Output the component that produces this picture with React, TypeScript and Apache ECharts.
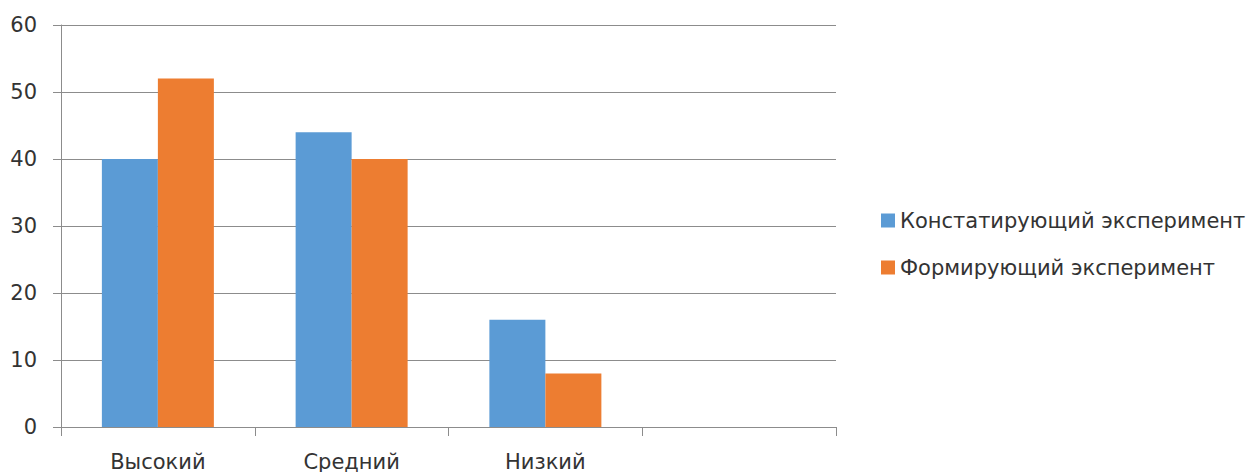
import React, { useEffect, useRef } from "react";
import * as echarts from "echarts";

const categories = ["Высокий", "Средний", "Низкий", ""];
const seriesNames = ["Констатирующий эксперимент", "Формирующий эксперимент"];
const constatValues = [40, 44, 16, null];
const formValues = [52, 40, 8, null];
const yTicks = { min: 0, max: 60, interval: 10 };

const FONT = "DejaVu Sans";
const TEXT = "#333333";
const AXIS = "#8c8c8c";

export default function App() {
  const ref = useRef<HTMLDivElement>(null);
  useEffect(() => {
    if (!ref.current) return;
    const chart = echarts.init(ref.current, undefined, { renderer: "svg" });
    chart.setOption({
      animation: false,
      backgroundColor: "#ffffff",
      grid: { left: 61, right: 412, top: 25, bottom: 44, containLabel: false },
      legend: {
        orient: "vertical",
        left: 876,
        top: 205,
        itemWidth: 14,
        itemHeight: 14,
        itemGap: 26,
        icon: "rect",
        textStyle: { fontFamily: FONT, fontSize: 21, color: TEXT },
        data: seriesNames,
      },
      xAxis: {
        type: "category",
        data: categories,
        axisLine: { show: true, lineStyle: { color: AXIS, width: 1 } },
        axisTick: { show: true, length: 9, alignWithLabel: false, lineStyle: { color: AXIS } },
        axisLabel: { fontFamily: FONT, fontSize: 21, color: TEXT, margin: 24 },
      },
      yAxis: {
        type: "value",
        min: yTicks.min,
        max: yTicks.max,
        interval: yTicks.interval,
        axisLine: { show: true, lineStyle: { color: AXIS, width: 1 } },
        axisTick: { show: true, length: 8, lineStyle: { color: AXIS } },
        axisLabel: { fontFamily: FONT, fontSize: 21, color: TEXT, margin: 24 },
        splitLine: { show: true, lineStyle: { color: AXIS, width: 1 } },
      },
      series: [
        {
          name: seriesNames[0],
          type: "bar",
          data: constatValues,
          barWidth: 56,
          barGap: "0%",
          itemStyle: { color: "#5B9BD5" },
        },
        {
          name: seriesNames[1],
          type: "bar",
          data: formValues,
          barWidth: 56,
          barGap: "0%",
          itemStyle: { color: "#ED7D31" },
        },
      ],
    });
    return () => chart.dispose();
  }, []);
  return (
    <div
      ref={ref}
      style={{ position: "fixed", left: 0, top: 0, width: 1248, height: 472 }}
    />
  );
}
